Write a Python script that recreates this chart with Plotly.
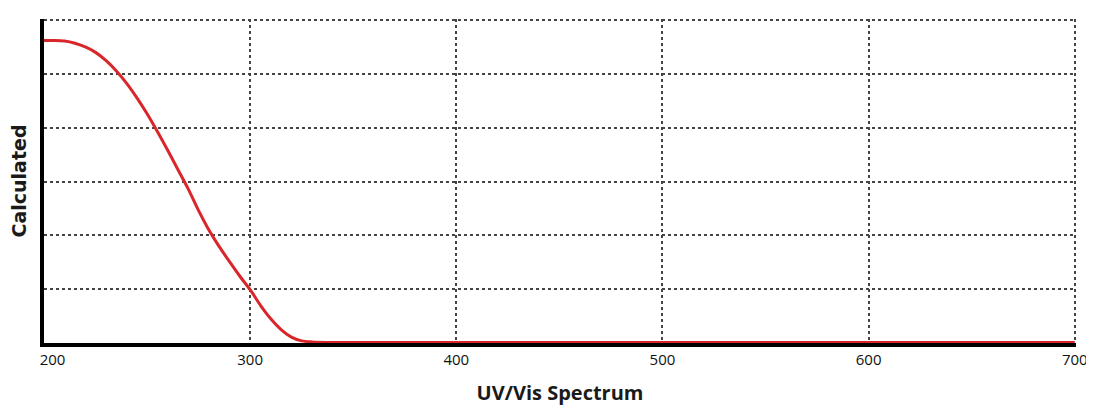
import plotly.graph_objects as go

wavelength = [200, 205, 210, 215, 220, 225, 230, 235, 240, 245, 250, 255, 260, 265,
              270, 275, 280, 285, 290, 295, 300, 305, 310, 315, 320, 325, 330, 340,
              400, 500, 600, 700]
calculated = [5.62, 5.62, 5.61, 5.57, 5.50, 5.40, 5.25, 5.06, 4.83, 4.56, 4.26, 3.93,
              3.58, 3.22, 2.86, 2.46, 2.10, 1.79, 1.51, 1.24, 0.99, 0.70, 0.45, 0.25,
              0.11, 0.04, 0.02, 0.01, 0.01, 0.01, 0.01, 0.01]
x_ticks = [200, 300, 400, 500, 600, 700]
x_tick_text = ["\u2007\u2007200", "300", "400", "500", "600", "700"]

fig = go.Figure()
fig.add_trace(go.Scatter(x=wavelength, y=calculated, mode="lines",
                         line=dict(color="#d9262b", width=3, shape="spline", smoothing=0.8),
                         hoverinfo="skip", showlegend=False))

fig.update_layout(
    width=1086, height=402,
    margin=dict(l=36, r=18, t=11, b=67),
    paper_bgcolor="white", plot_bgcolor="white",
    font=dict(family="Open Sans", color="#222"),
    xaxis=dict(range=[200, 700.6], tickvals=x_ticks, ticktext=x_tick_text,
               showgrid=True, gridcolor="#444", gridwidth=1.5, griddash="3px,3px",
               showline=True, linecolor="black", linewidth=4, zeroline=False,
               ticks="", automargin=False,
               tickfont=dict(size=15, color="#111"),
               title=dict(text="<b>UV/Vis Spectrum</b>", font=dict(size=20, color="#1a1a1a"),
                          standoff=19)),
    yaxis=dict(range=[0, 6.02], dtick=1, showticklabels=False, automargin=False,
               showgrid=True, gridcolor="#444", gridwidth=1.5, griddash="3px,3px",
               showline=True, linecolor="black", linewidth=4, zeroline=False, ticks="",
               title=dict(text="<b>Calculated</b>",
                          font=dict(family="DejaVu Sans", size=19, color="#1a1a1a"),
                          standoff=12)),
)
fig.write_html("out.html")
